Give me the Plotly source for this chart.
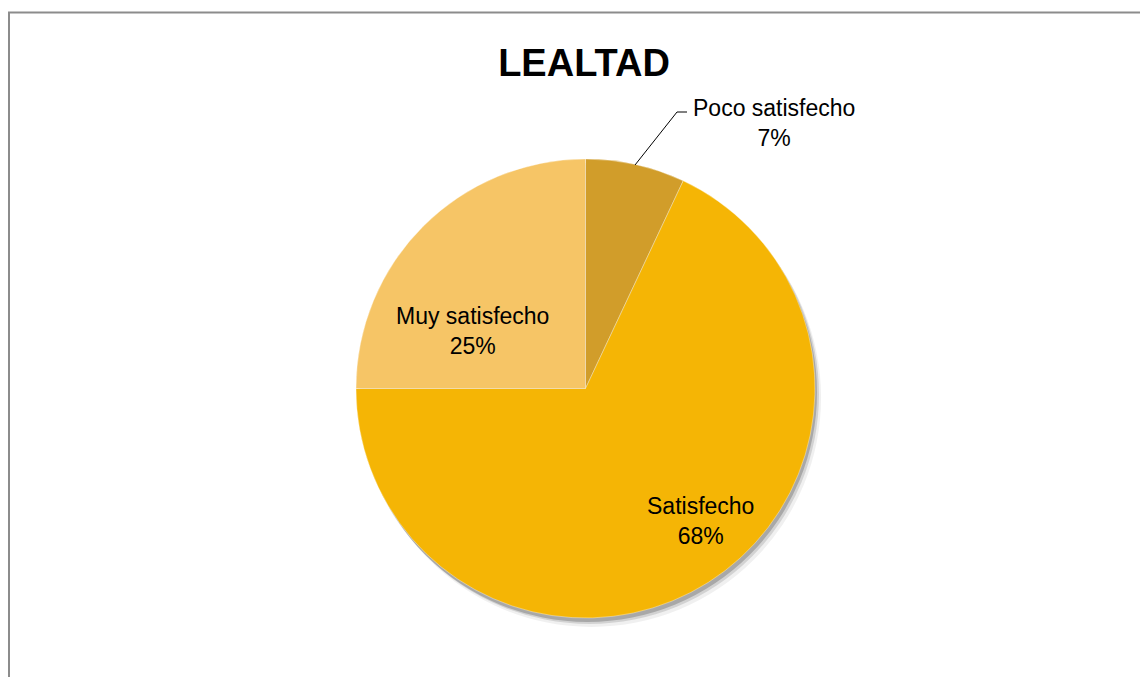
import plotly.graph_objects as go

# datos
labels = ["Poco satisfecho", "Satisfecho", "Muy satisfecho"]
values = [7, 68, 25]
colors = ["#D19D2A", "#F5B505", "#F6C566"]
title = "LEALTAD"

W, H = 1148, 677
OFF = 8  # page body margin in the browser
font = "Liberation Sans"


def px(x, y):
    # screen px -> paper coords
    return (x - OFF) / W, 1 - (y - OFF) / H


# pie domain
x0, y1 = px(356, 159)
x1, y0 = px(815, 618)
dom_x = [x0, x1]
dom_y = [y0, y1]


def shifted(dx, dy):
    return dict(
        x=[dom_x[0] + dx / W, dom_x[1] + dx / W],
        y=[dom_y[0] - dy / H, dom_y[1] - dy / H],
    )


fig = go.Figure()

# soft shadow under the pie
for dx, dy, a in [(6, 9, 0.06), (4, 6, 0.12), (2, 4, 0.2)]:
    fig.add_trace(go.Pie(
        values=[sum(values)],
        marker=dict(colors=[f"rgba(0,0,0,{a})"], line=dict(width=0)),
        textinfo="none",
        hoverinfo="skip",
        showlegend=False,
        domain=shifted(dx, dy),
    ))

fig.add_trace(go.Pie(
    labels=labels,
    values=values,
    sort=False,
    direction="clockwise",
    rotation=0,
    marker=dict(colors=colors, line=dict(color="rgba(255,255,255,0.35)", width=1)),
    textinfo="none",
    showlegend=False,
    domain=dict(x=dom_x, y=dom_y),
))

total = sum(values)
pct = [f"{round(v * 100 / total)}%" for v in values]

# label positions (centre of text block, screen px)
label_pos = [(774, 123), (700, 521), (472, 331)]
for lab, p, (lx, ly) in zip(labels, pct, label_pos):
    ax, ay = px(lx, ly)
    fig.add_annotation(
        x=ax, y=ay, xref="paper", yref="paper",
        text=f"{lab}<br>{p}", showarrow=False,
        font=dict(family=font, size=23, color="#000000"),
        xanchor="center", yanchor="middle", align="center",
    )

# leader line for the outside label
pts = [px(635, 165), px(677, 112), px(687, 112)]
path = "M " + " L ".join(f"{x},{y}" for x, y in pts)
fig.add_shape(type="path", path=path, xref="paper", yref="paper",
              line=dict(color="#000000", width=1))

# chart area border
bx, by = px(9, 12.5)
fig.add_shape(type="rect", xref="paper", yref="paper",
              x0=bx, x1=1.05, y0=-0.05, y1=by,
              line=dict(color="#8C8C8C", width=2), layer="below")

tx, ty = px(584, 63)
fig.update_layout(
    width=W, height=H,
    margin=dict(l=0, r=0, t=0, b=0),
    paper_bgcolor="white",
    plot_bgcolor="white",
    title=dict(text=f"<b>{title}</b>", x=tx, xanchor="center",
               y=ty, yanchor="middle",
               font=dict(family=font, size=38, color="#000000")),
)

fig.write_html("out.html")
